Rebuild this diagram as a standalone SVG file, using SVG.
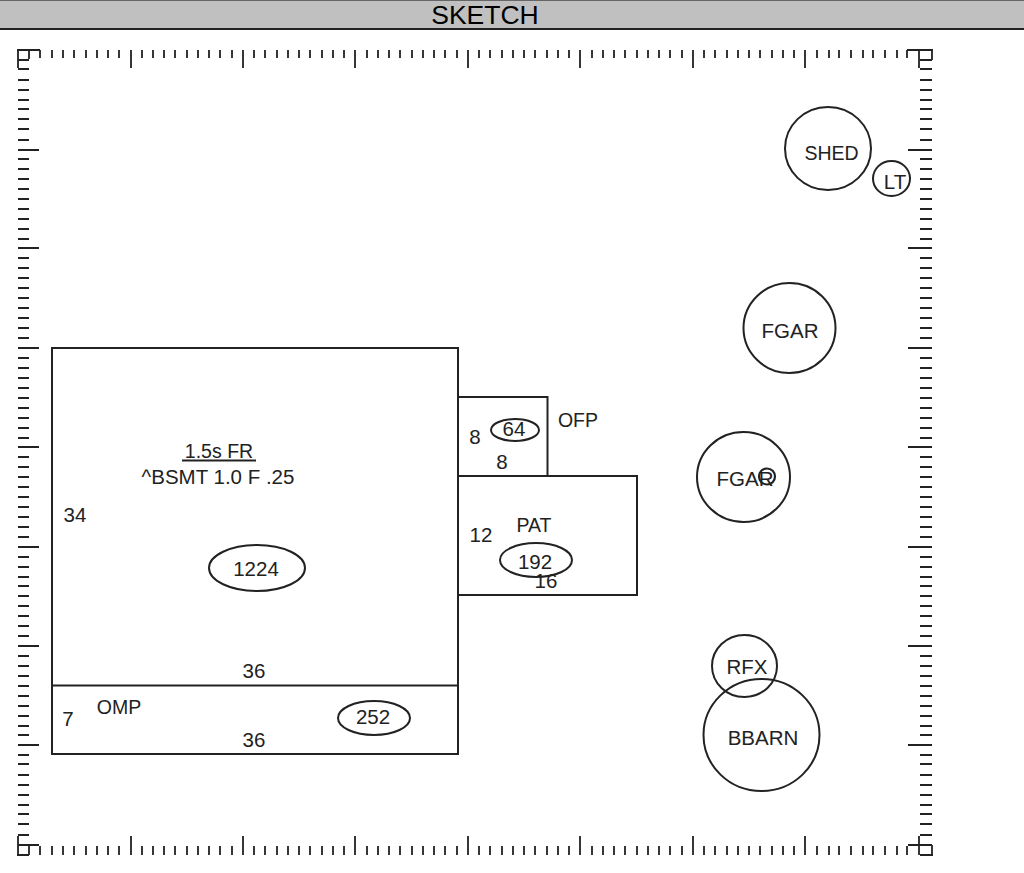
<svg xmlns="http://www.w3.org/2000/svg" width="1024" height="873" viewBox="0 0 1024 873">
<style>
text{font-family:"Liberation Sans",Arial,sans-serif;font-size:20.500px;fill:#222;text-anchor:middle}
.n{font-size:19.500px}
.s{fill:none;stroke:#222;stroke-width:2}
.t{fill:none;stroke:#222;stroke-width:1.800}
</style>
<rect width="1024" height="873" fill="#fff"/>
<g id="header"><rect x="0" y="0" width="1024" height="28.500" fill="#c0c0c0"/><path d="M0 .5H1024" stroke="#666" stroke-width="1"/><path d="M0 29H1024" stroke="#222" stroke-width="2"/><text x="485" y="24" style="font-size:26.500px;fill:#000">SKETCH</text></g>
<g id="ruler">
<path class="t" d="M18 50V68M29 50V59M40 50V58M52 50V58M63 50V58M74 50V58M86 50V58M97 50V58M108 50V58M119 50V58M131 50V68M142 50V58M153 50V58M164 50V58M175 50V58M187 50V58M198 50V58M209 50V58M220 50V58M232 50V58M243 50V68M254 50V58M265 50V58M277 50V58M288 50V58M299 50V58M310 50V58M322 50V58M333 50V58M344 50V58M355 50V68M367 50V58M378 50V58M389 50V58M400 50V58M412 50V58M423 50V58M434 50V58M445 50V58M457 50V58M468 50V68M479 50V58M490 50V58M502 50V58M513 50V58M524 50V58M535 50V58M547 50V58M558 50V58M569 50V58M580 50V68M592 50V58M603 50V58M614 50V58M625 50V58M637 50V58M648 50V58M659 50V58M670 50V58M682 50V58M693 50V68M704 50V58M715 50V58M727 50V58M738 50V58M749 50V58M760 50V58M772 50V58M783 50V58M794 50V58M805 50V68M817 50V58M829 50V58M839 50V58M851 50V58M863 50V58M873 50V58M885 50V58M897 50V58M907 50V58M919 50V68M932 50V60"/>
<path class="t" d="M18 855V836M29 855V845M40 855V846M52 855V846M63 855V846M74 855V846M86 855V846M97 855V846M108 855V846M119 855V846M131 855V836M142 855V846M153 855V846M164 855V846M175 855V846M187 855V846M198 855V846M209 855V846M220 855V846M232 855V846M243 855V836M254 855V846M265 855V846M277 855V846M288 855V846M299 855V846M310 855V846M322 855V846M333 855V846M344 855V846M355 855V836M367 855V846M378 855V846M389 855V846M400 855V846M412 855V846M423 855V846M434 855V846M445 855V846M457 855V846M468 855V836M479 855V846M490 855V846M502 855V846M513 855V846M524 855V846M535 855V846M547 855V846M558 855V846M569 855V846M580 855V836M592 855V846M603 855V846M614 855V846M625 855V846M637 855V846M648 855V846M659 855V846M670 855V846M682 855V846M693 855V836M704 855V846M715 855V846M727 855V846M738 855V846M749 855V846M760 855V846M772 855V846M783 855V846M794 855V846M805 855V836M817 855V846M829 855V846M839 855V846M851 855V846M863 855V846M873 855V846M885 855V846M897 855V846M907 855V846M919 855V836M932 855V845"/>
<path class="t" d="M17 50H40M18 60H29M18 69H29M18 80H29M18 90H29M18 100H29M18 109H29M18 119H29M18 129H29M18 140H29M18 150H39M18 159H29M18 169H29M18 179H29M18 189H29M18 199H29M18 209H29M18 219H29M18 229H29M18 239H29M18 248H39M18 258H29M18 268H29M18 278H29M18 288H29M18 298H29M18 308H29M18 318H29M18 328H29M18 338H29M18 348H39M18 358H29M18 368H29M18 378H29M18 388H29M18 398H29M18 408H29M18 418H29M18 428H29M18 438H29M18 447H39M18 457H29M18 467H29M18 477H29M18 487H29M18 497H29M18 507H29M18 517H29M18 527H29M18 537H29M18 547H39M18 557H29M18 567H29M18 577H29M18 586H29M18 596H29M18 606H29M18 616H29M18 626H29M18 636H29M18 646H39M18 656H29M18 666H29M18 676H29M18 686H29M18 696H29M18 706H29M18 716H29M18 726H29M18 735H29M18 745H39M18 755H29M18 764H29M18 775H29M18 785H29M18 795H29M18 805H29M18 814H29M18 824H29M18 835H29M18 845H39M17 855H29"/>
<path class="t" d="M907 50H933M920 60H932M920 69H932M920 80H932M920 90H932M920 100H932M920 109H932M920 119H932M920 129H932M920 140H932M908 150H932M920 159H932M920 169H932M920 179H932M920 189H932M920 199H932M920 209H932M920 219H932M920 229H932M920 239H932M908 248H932M920 258H932M920 268H932M920 278H932M920 288H932M920 298H932M920 308H932M920 318H932M920 328H932M920 338H932M908 348H932M920 358H932M920 368H932M920 378H932M920 388H932M920 398H932M920 408H932M920 418H932M920 428H932M920 438H932M908 447H932M920 457H932M920 467H932M920 477H932M920 487H932M920 497H932M920 507H932M920 517H932M920 527H932M920 537H932M908 547H932M920 557H932M920 567H932M920 577H932M920 586H932M920 596H932M920 606H932M920 616H932M920 626H932M920 636H932M908 646H932M920 656H932M920 666H932M920 676H932M920 686H932M920 696H932M920 706H932M920 716H932M920 726H932M920 735H932M908 745H932M920 755H932M920 764H932M920 775H932M920 785H932M920 795H932M920 805H932M920 814H932M920 824H932M920 835H932M908 845H932M920 855H933"/>
</g>
<g id="connectors"></g>
<g id="main"><rect class="s" x="52" y="348" width="406" height="406"/><path class="s" d="M52 685.500H458"/><path d="M182 460.500H256" stroke="#222" stroke-width="2"/><text class="n" x="219" y="458">1.5s FR</text><text x="218" y="484">^BSMT 1.0 F .25</text><text x="75" y="522">34</text><ellipse class="s" cx="257" cy="568" rx="48" ry="23"/><text x="256" y="576">1224</text><text x="254" y="678">36</text></g>
<g id="omp"><text class="n" x="119" y="714">OMP</text><text x="68" y="726">7</text><ellipse class="s" cx="374" cy="718" rx="36" ry="17"/><text x="373" y="724">252</text><text x="254" y="747">36</text></g>
<g id="ofp"><path class="s" d="M458 397H547.500V476"/><ellipse class="s" cx="515" cy="430" rx="24" ry="11"/><text x="514" y="436">64</text><text x="475" y="444">8</text><text x="502" y="469">8</text><text class="n" x="578" y="427">OFP</text></g>
<g id="pat"><rect class="s" x="458" y="476" width="179" height="119"/><text class="n" x="534" y="532">PAT</text><text x="481" y="542">12</text><ellipse class="s" cx="536" cy="560" rx="36" ry="17"/><text x="535" y="569">192</text><text x="546" y="588">16</text></g>
<g id="shed"><ellipse class="s" cx="828" cy="148.500" rx="43" ry="41.500"/><text class="n" x="831.500" y="160">SHED</text></g>
<g id="lt"><ellipse class="s" cx="891.500" cy="178.500" rx="18.500" ry="17.500"/><text x="895" y="189">LT</text></g>
<g id="fgar1"><ellipse class="s" cx="789.500" cy="328" rx="46" ry="45"/><text x="790" y="338">FGAR</text></g>
<g id="fgar2"><ellipse class="s" cx="743.500" cy="477" rx="46.500" ry="45"/><text x="745" y="486">FGAR</text><circle cx="767" cy="476.500" r="8" fill="none" stroke="#222" stroke-width="2.200"/></g>
<g id="rfx"><ellipse class="s" cx="744.500" cy="666" rx="32.500" ry="31"/><text x="747" y="674">RFX</text></g>
<g id="bbarn"><ellipse class="s" cx="761.500" cy="735" rx="58" ry="56"/><text x="763" y="745">BBARN</text></g>
</svg>
